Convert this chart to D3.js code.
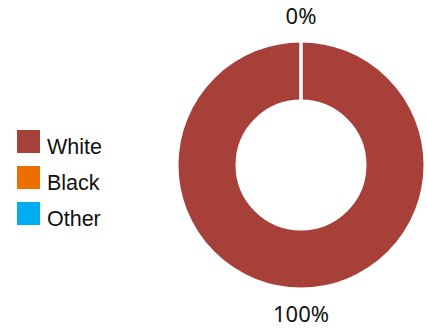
<!DOCTYPE html>
<html>
<head>
<meta charset="utf-8">
<script src="https://cdn.jsdelivr.net/npm/d3@7"></script>
<style>
  html, body { margin: 0; padding: 0; background: #fff; }
  svg { display: block; }
</style>
</head>
<body>
<svg id="chart" width="427" height="329"></svg>
<script>
const categories = ["White", "Black", "Other"];
const values = [100, 0, 0];
const colors = ["#a8403a", "#ec7000", "#00aeef"];
const labels = ["100%", "0%", "0%"];

const svg = d3.select("#chart");
const cx = 301, cy = 165, outerR = 124, innerR = 64;

const data = categories.map((c, i) => ({ name: c, value: values[i], color: colors[i], label: labels[i] }));
const pie = d3.pie().sort(null).value(d => d.value);
const arcs = pie(data);
const arc = d3.arc().innerRadius(innerR).outerRadius(outerR);

const g = svg.append("g").attr("transform", `translate(${cx},${cy})`);
g.selectAll("path.slice").data(arcs).join("path")
  .attr("class", "slice")
  .attr("d", arc)
  .attr("fill", d => d.data.color)
  .attr("stroke", "#fff")
  .attr("stroke-width", 3)
  .attr("stroke-linejoin", "miter");

// labels outside, one per distinct angle
const labelArc = d3.arc().innerRadius(149).outerRadius(149);
const seen = new Set();
const shown = arcs.filter(a => {
  const key = ((a.startAngle + a.endAngle) / 2 % (2 * Math.PI)).toFixed(3);
  if (seen.has(key)) return false;
  seen.add(key);
  return true;
});
g.selectAll("text.lbl").data(shown).join("text")
  .attr("class", "lbl")
  .attr("transform", d => `translate(${labelArc.centroid(d)})`)
  .attr("text-anchor", "middle")
  .attr("dy", "0.35em")
  .style("font-family", "'Noto Sans', 'Open Sans', sans-serif")
  .style("font-size", "22px")
  .attr("fill", "#111")
  .text(d => d.data.label);

// legend
const legendY = d3.scaleBand().domain(categories).range([128, 236]);
const lg = svg.append("g");
const item = lg.selectAll("g.item").data(data).join("g")
  .attr("class", "item")
  .attr("transform", d => `translate(17,${legendY(d.name)})`);
item.append("rect")
  .attr("x", 0).attr("y", 2)
  .attr("width", 23).attr("height", 23)
  .attr("fill", d => d.color);
item.append("text")
  .attr("x", 30).attr("y", 26)
  .style("font-family", "'Liberation Sans', Arial, sans-serif")
  .style("font-size", "21.5px")
  .attr("fill", "#111")
  .text(d => d.name);
</script>
</body>
</html>
